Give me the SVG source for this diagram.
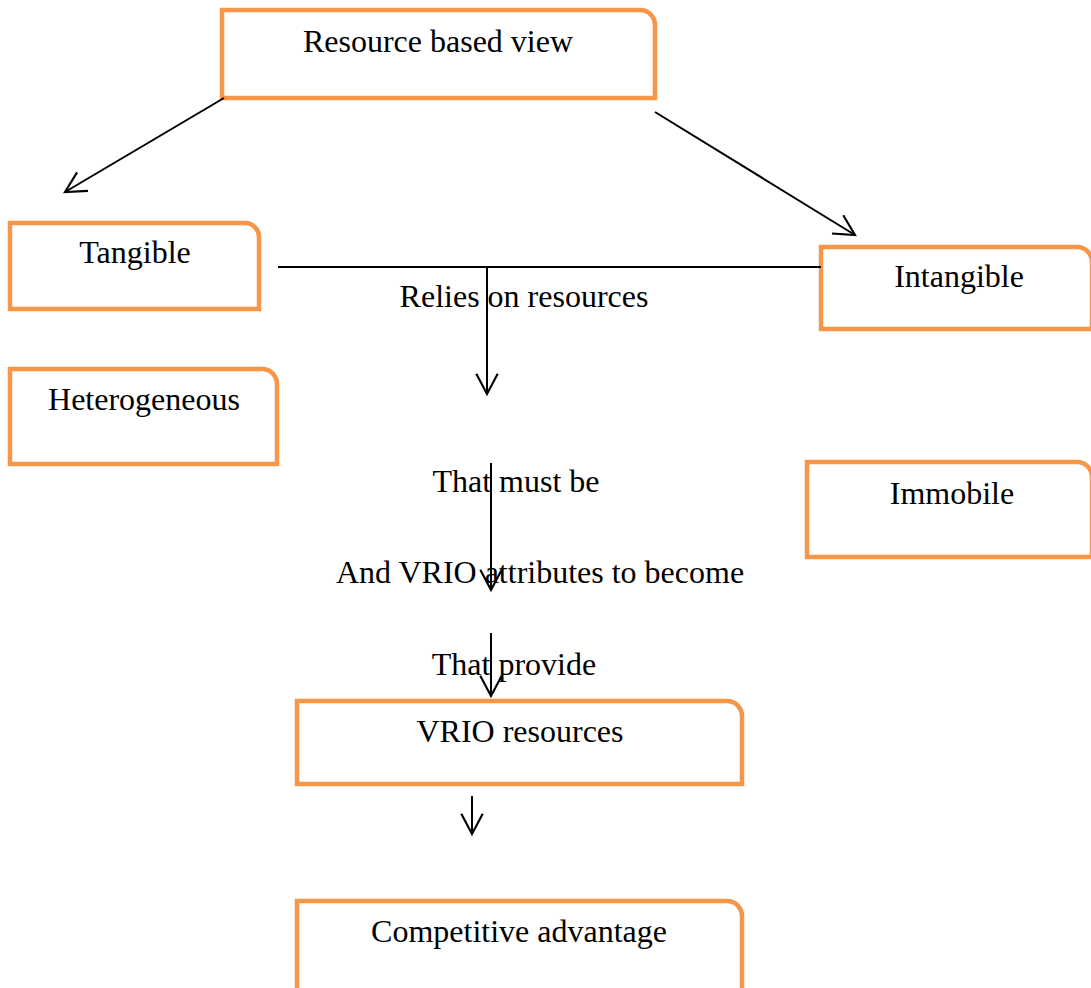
<svg xmlns="http://www.w3.org/2000/svg" width="1091" height="988" viewBox="0 0 1091 988">
<defs>
<style>
.box{fill:#fff;stroke:#F79646;stroke-width:4.5}
.t{font-family:"Liberation Serif","Times New Roman",serif;font-size:32px;fill:#000;text-anchor:middle}
.c{fill:none;stroke:#000;stroke-width:2}
</style>
<marker id="ah" markerUnits="userSpaceOnUse" markerWidth="30" markerHeight="30" viewBox="-22 -14 26 28" refX="0" refY="0" orient="auto">
<path d="M-19,-10 L0,0 L-19,10" fill="none" stroke="#000" stroke-width="2"/>
</marker>
</defs>
<rect width="1091" height="988" fill="#fff"/>
<g id="n-rbv"><path class="box" d="M222,10 H640 A15,15 0 0 1 655,25 V98 H222 Z"/><text class="t" x="438" y="52">Resource based view</text></g>
<g id="n-tangible"><path class="box" d="M10,223 H245 A14,14 0 0 1 259,237 V309 H10 Z"/><text class="t" x="135" y="263">Tangible</text></g>
<g id="n-hetero"><path class="box" d="M10,369 H262 A15,15 0 0 1 277,384 V464 H10 Z"/><text class="t" x="144" y="410">Heterogeneous</text></g>
<g id="n-intangible"><path class="box" d="M821,247 H1077 A15,15 0 0 1 1092,262 V329 H821 Z"/><text class="t" x="959" y="287">Intangible</text></g>
<g id="n-immobile"><path class="box" d="M807,462 H1077 A15,15 0 0 1 1092,477 V557 H807 Z"/><text class="t" x="952" y="504">Immobile</text></g>
<g id="n-vrio"><path class="box" d="M297,701 H727 A15,15 0 0 1 742,716 V784 H297 Z"/><text class="t" x="520" y="742">VRIO resources</text></g>
<g id="n-comp"><path class="box" d="M297,901 H727 A15,15 0 0 1 742,916 V995 H297 Z"/><text class="t" x="519" y="942">Competitive advantage</text></g>
<g id="connectors">
<line class="c" x1="224" y1="98" x2="65" y2="192" marker-end="url(#ah)"/>
<line class="c" x1="655" y1="112" x2="855" y2="235" marker-end="url(#ah)"/>
<line class="c" x1="278" y1="267" x2="821" y2="267"/>
<line class="c" x1="487" y1="267" x2="487" y2="394" marker-end="url(#ah)"/>
<line class="c" x1="491" y1="463" x2="491" y2="590" marker-end="url(#ah)"/>
<line class="c" x1="491" y1="633" x2="491" y2="696" marker-end="url(#ah)"/>
<line class="c" x1="472" y1="796" x2="472" y2="834" marker-end="url(#ah)"/>
</g>
<g id="labels">
<text class="t" x="524" y="307">Relies on resources</text>
<text class="t" x="516" y="492">That must be</text>
<text class="t" x="540" y="583">And VRIO attributes to become</text>
<text class="t" x="514" y="675">That provide</text>
</g>
</svg>
